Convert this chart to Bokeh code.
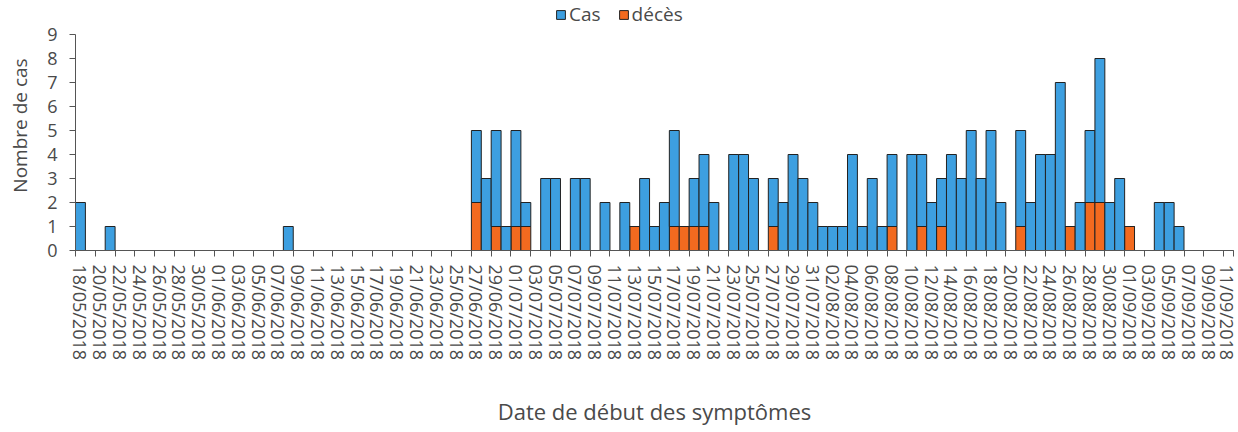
import pandas as pd
from bokeh.plotting import figure
from bokeh.models import Range1d, FixedTicker, Legend, LegendItem, ColumnDataSource
from bokeh.embed import file_html
from bokeh.resources import INLINE

# --- data -----------------------------------------------------------------
days = pd.date_range("2018-05-18", "2018-09-11", freq="D")
day_labels = [d.strftime("%d/%m/%Y") for d in days]

# total cases per day (height of stacked bar)
cas_total = [
    2, 0, 0, 1, 0, 0, 0, 0, 0, 0,   # 18/05 - 27/05
    0, 0, 0, 0, 0, 0, 0, 0, 0, 0,   # 28/05 - 06/06
    0, 1, 0, 0, 0, 0, 0, 0, 0, 0,   # 07/06 - 16/06
    0, 0, 0, 0, 0, 0, 0, 0, 0, 0,   # 17/06 - 26/06
    5, 3, 5, 1, 5, 2, 0, 3, 3, 0,   # 27/06 - 06/07
    3, 3, 0, 2, 0, 2, 1, 3, 1, 2,   # 07/07 - 16/07
    5, 1, 3, 4, 2, 0, 4, 4, 3, 0,   # 17/07 - 26/07
    3, 2, 4, 3, 2, 1, 1, 1, 4, 1,   # 27/07 - 05/08
    3, 1, 4, 0, 4, 4, 2, 3, 4, 3,   # 06/08 - 15/08
    5, 3, 5, 2, 0, 5, 2, 4, 4, 7,   # 16/08 - 25/08
    1, 2, 5, 8, 2, 3, 1, 0, 0, 2,   # 26/08 - 04/09
    2, 1, 0, 0, 0, 0, 0,            # 05/09 - 11/09
]
# deaths per day (bottom orange segment)
deces = [
    0, 0, 0, 0, 0, 0, 0, 0, 0, 0,
    0, 0, 0, 0, 0, 0, 0, 0, 0, 0,
    0, 0, 0, 0, 0, 0, 0, 0, 0, 0,
    0, 0, 0, 0, 0, 0, 0, 0, 0, 0,
    2, 0, 1, 0, 1, 1, 0, 0, 0, 0,
    0, 0, 0, 0, 0, 0, 1, 0, 0, 0,
    1, 1, 1, 1, 0, 0, 0, 0, 0, 0,
    1, 0, 0, 0, 0, 0, 0, 0, 0, 0,
    0, 0, 1, 0, 0, 1, 0, 1, 0, 0,
    0, 0, 0, 0, 0, 1, 0, 0, 0, 0,
    1, 0, 2, 2, 0, 0, 1, 0, 0, 0,
    0, 0, 0, 0, 0, 0, 0,
]
y_ticks = [0, 1, 2, 3, 4, 5, 6, 7, 8, 9]

# --- figure ---------------------------------------------------------------
idx = list(range(len(day_labels)))
src = ColumnDataSource(dict(x=idx, total=cas_total, deces=deces))

FONT = "Open Sans"
TXT = "#4a4a4a"
BLUE = "#3d9fe0"
ORANGE = "#f26a1f"
AX = "#555555"

p = figure(width=1238, height=432, output_backend="svg", toolbar_location=None,
           x_range=Range1d(-0.5, len(idx) - 0.5), y_range=Range1d(0, 10.417),
           min_border_left=75, min_border_right=5, min_border_top=0,
           min_border_bottom=182)
p.outline_line_color = None
p.xgrid.grid_line_color = None
p.ygrid.grid_line_color = None

r_dec = p.vbar(x="x", bottom=0, top="deces", width=1.0, source=src,
               fill_color=ORANGE, line_color="#222222", line_width=1)
r_cas = p.vbar(x="x", bottom="deces", top="total", width=1.0, source=src,
               fill_color=BLUE, line_color="#222222", line_width=1)

# x axis: labels at every other day, tick marks at slot boundaries
xa = p.xaxis[0]
xa.ticker = FixedTicker(ticks=[i for i in idx if i % 2 == 0],
                        minor_ticks=[i - 0.5 for i in idx if i % 2 == 0] + [len(idx) - 0.5])
xa.major_label_overrides = {i: day_labels[i] for i in idx if i % 2 == 0}
xa.major_tick_line_color = None
xa.minor_tick_in = 0
xa.minor_tick_out = 6
xa.minor_tick_line_color = AX
xa.axis_line_color = AX
xa.major_label_orientation = "vertical"
xa.major_label_text_font = FONT
xa.major_label_text_font_size = "18px"
xa.major_label_text_color = TXT
xa.major_label_standoff = 8
xa.axis_label = "Date de début des symptômes"
xa.axis_label_text_font = FONT
xa.axis_label_text_font_size = "22px"
xa.axis_label_text_font_style = "normal"
xa.axis_label_text_color = TXT
xa.axis_label_standoff = 33

ya = p.yaxis[0]
ya.ticker = FixedTicker(ticks=y_ticks)
ya.bounds = (0, 9)
ya.minor_tick_line_color = None
ya.major_tick_in = 0
ya.major_tick_out = 6
ya.major_tick_line_color = AX
ya.axis_line_color = AX
ya.major_label_text_font = FONT
ya.major_label_text_font_size = "18px"
ya.major_label_text_color = TXT
ya.major_label_standoff = 12
ya.axis_label = "Nombre de cas"
ya.axis_label_text_font = FONT
ya.axis_label_text_font_size = "19px"
ya.axis_label_text_font_style = "normal"
ya.axis_label_text_color = TXT
ya.axis_label_standoff = 11

legend = Legend(items=[LegendItem(label="Cas", renderers=[r_cas]),
                       LegendItem(label="décès", renderers=[r_dec])],
                orientation="horizontal", location=(480, 223))
legend.background_fill_alpha = 0
legend.border_line_alpha = 0
legend.label_text_font = FONT
legend.label_text_font_size = "19px"
legend.label_text_color = TXT
legend.glyph_width = 11
legend.glyph_height = 11
legend.label_standoff = 3
legend.spacing = 17
legend.padding = 0
legend.margin = 0
legend.label_height = 19
p.add_layout(legend)

open("out.html", "w").write(file_html(p, INLINE))
